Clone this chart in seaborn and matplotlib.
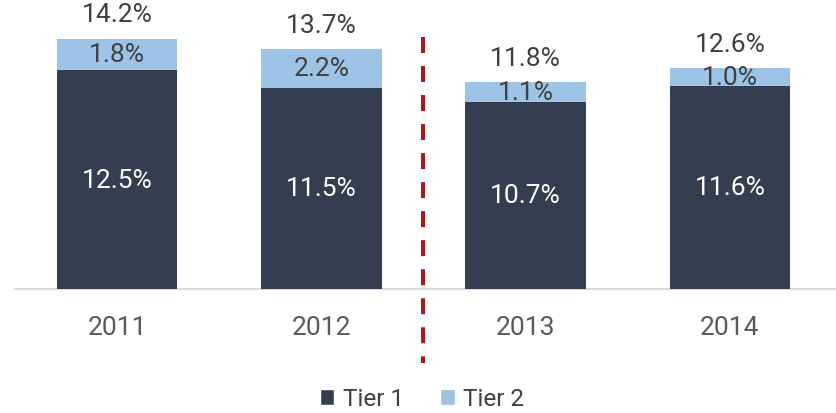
import matplotlib
matplotlib.use("Agg")
import matplotlib.pyplot as plt
from matplotlib.patches import Patch
import seaborn as sns
import pandas as pd

years = ["2011", "2012", "2013", "2014"]
tier1 = [12.5, 11.5, 10.7, 11.6]
tier2 = [1.8, 2.2, 1.1, 1.0]
totals = [14.2, 13.7, 11.8, 12.6]

TIER1_COLOR = "#333F50"
TIER2_COLOR = "#9DC3E6"
TEXT_COLOR = "#404040"
DIVIDER_COLOR = "#A11B1F"

sns.set_theme(style="white")
plt.rcParams["font.family"] = ["Roboto", "DejaVu Sans"]
plt.rcParams["lines.scale_dashes"] = False

df = pd.DataFrame({"year": years, "tier1": tier1, "tier2": tier2, "total": totals})
df["stack_top"] = df["tier1"] + df["tier2"]

fig = plt.figure(figsize=(8.36, 4.14), dpi=100)
ax = fig.add_axes([15 / 836, 124 / 414, 821 / 836, 282 / 414])

# Stacked bars: full stack in Tier 2 colour, Tier 1 drawn over it
sns.barplot(data=df, x="year", y="stack_top", color=TIER2_COLOR, width=0.59,
            saturation=1, linewidth=0, ax=ax, zorder=2)
sns.barplot(data=df, x="year", y="tier1", color=TIER1_COLOR, width=0.59,
            saturation=1, linewidth=0, ax=ax, zorder=3)

ax.set_xlim(-0.5, 3.52)
ax.set_ylim(0, 16.1)
ax.set_xlabel("")
ax.set_ylabel("")
ax.set_yticks([])
ax.tick_params(axis="x", length=0, pad=19, labelsize=19, labelcolor="#595959")
for side in ["top", "left", "right"]:
    ax.spines[side].set_visible(False)
ax.spines["bottom"].set_color("#D9D9D9")
ax.spines["bottom"].set_linewidth(1.4)

for i, row in df.iterrows():
    ax.text(i, row["tier1"] / 2, f"{row['tier1']:.1f}%", ha="center", va="center",
            color="white", fontsize=19, zorder=5)
    ax.text(i, row["tier1"] + row["tier2"] / 2, f"{row['tier2']:.1f}%", ha="center",
            va="center", color=TEXT_COLOR, fontsize=19, zorder=5)
    ax.annotate(f"{row['total']:.1f}%", (i, row["stack_top"]), xytext=(0, 17.5),
                textcoords="offset points", ha="center", va="center",
                color=TEXT_COLOR, fontsize=19, zorder=5)

# Dashed divider between 2012 and 2013
ax.plot([1.5, 1.5], [14.4, -4.25], color=DIVIDER_COLOR, linewidth=2.9,
        dashes=(11.5, 9.4), clip_on=False, zorder=4)

handles = [Patch(facecolor=TIER1_COLOR, label="Tier 1"),
           Patch(facecolor=TIER2_COLOR, label="Tier 2")]
fig.legend(handles=handles, loc="center", bbox_to_anchor=(422 / 836, 1 - 400 / 414),
           ncol=2, frameon=False, fontsize=17.5, labelcolor=TEXT_COLOR,
           handlelength=0.6, handleheight=0.6, handletextpad=0.35, columnspacing=1.5)

fig.savefig("out.png", dpi=100)
